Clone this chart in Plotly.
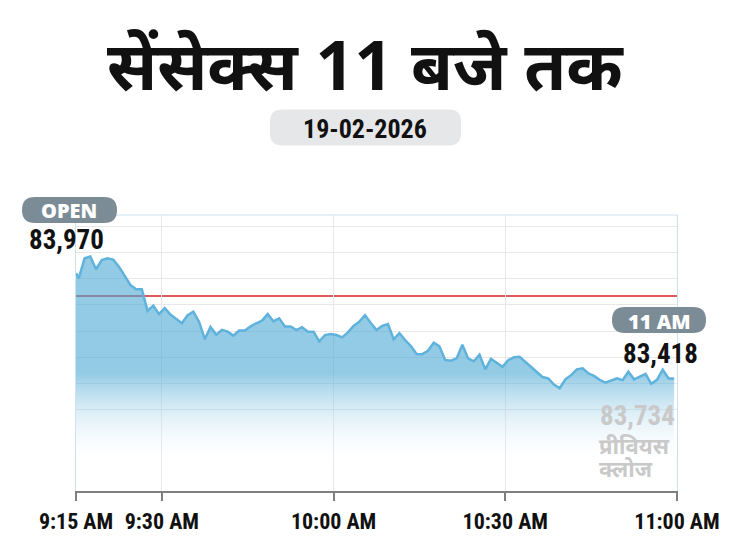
import plotly.graph_objects as go
import pandas as pd

# ---------------- data ----------------
minutes_after_open = [
    0, 0.5, 1.5, 2.5, 3.5, 4.5, 5.5, 6.5, 7.5, 8.5, 9.5, 10.5, 11.5, 12.5, 13.5,
    14.5, 15.5, 16.5, 18.5, 19.5, 20.5, 21.5, 22.5, 23.5, 24.5, 25.5, 26.5, 27.5,
    28.5, 29.5, 30.5, 31.5, 32.5, 33.5, 34.5, 35.5, 36.5, 37.5, 38.5, 39.5, 40.5,
    41.5, 42.5, 43.5, 44.5, 45.5, 46.5, 47.5, 48.5, 49.5, 50.5, 51.5, 52.5, 53.5,
    54.5, 55.5, 56.5, 57.5, 58.5, 59.5, 60.5, 61.5, 62.5, 63.5, 64.5, 65.5, 66.5,
    67.5, 68.5, 69.5, 70.5, 71.5, 72.5, 73.5, 74.5, 75.5, 76.5, 77.5, 78.5, 79.5,
    80.5, 81.5, 82.5, 83.5, 84.5, 85.5, 86.5, 87.5, 88.5, 89.5, 90.5, 91.5, 92.5,
    93.5, 94.5, 95.5, 96.5, 97.5, 98.5, 99.5, 100.5, 101.5, 102.5, 103.5, 104.5,
]
sensex = [
    83821, 83802, 83878, 83885, 83836, 83871, 83878, 83873, 83846, 83810, 83776,
    83760, 83760, 83677, 83697, 83665, 83688, 83663, 83630, 83661, 83674, 83636,
    83569, 83616, 83586, 83605, 83598, 83583, 83602, 83602, 83618, 83630, 83640,
    83665, 83637, 83649, 83618, 83618, 83604, 83615, 83598, 83598, 83561, 83585,
    83589, 83585, 83576, 83595, 83620, 83636, 83661, 83631, 83604, 83620, 83627,
    83569, 83592, 83566, 83543, 83513, 83512, 83525, 83556, 83542, 83490, 83487,
    83496, 83548, 83496, 83485, 83510, 83454, 83494, 83479, 83464, 83489, 83500,
    83502, 83483, 83464, 83444, 83425, 83420, 83396, 83382, 83416, 83432, 83454,
    83458, 83439, 83429, 83414, 83403, 83411, 83420, 83413, 83445, 83416, 83426,
    83437, 83399, 83414, 83453, 83420, 83418,
]
session_date = "2026-02-19"
date_label = "19-02-2026"
open_value = 83970
current_value = 83418
previous_close = 83734
tick_times = ["09:15", "09:30", "10:00", "10:30", "11:00"]
tick_labels = ["9:15 AM", "9:30 AM", "10:00 AM", "10:30 AM", "11:00 AM"]
grid_values = [83300, 83400, 83500, 83600, 83700, 83800, 83900, 84000]
title_text = "सेंसेक्स 11 बजे तक"
open_text = "OPEN"
now_text = "11 AM"
prev_close_lines = ["प्रीवियस", "क्लोज"]

# ---------------- layout helpers ----------------
OFF = 8                      # page body margin
W, H = 730 - OFF, 548 - OFF  # figure size
L, R, T, B = 76 - OFF, 677 - OFF, 215 - OFF, 491 - OFF  # plot area in figure px


def px_x(px):
    """reference-page x pixel -> paper x"""
    return (px - OFF - L) / (R - L)


def px_y(py):
    """reference-page y pixel -> paper y"""
    return (B - (py - OFF)) / (B - T)


def pill_path(w, h, r):
    x0, x1, y0, y1 = -w / 2, w / 2, -h / 2, h / 2
    return (f"M {x0 + r},{y0} L {x1 - r},{y0} Q {x1},{y0} {x1},{y0 + r} "
            f"L {x1},{y1 - r} Q {x1},{y1} {x1 - r},{y1} L {x0 + r},{y1} "
            f"Q {x0},{y1} {x0},{y1 - r} L {x0},{y0 + r} Q {x0},{y0} {x0 + r},{y0} Z")


base = pd.Timestamp(f"{session_date} 09:15")
times = [base + pd.Timedelta(minutes=m) for m in minutes_after_open]
tickvals = [pd.Timestamp(f"{session_date} {t}") for t in tick_times]

NARROW = "Roboto Condensed, DejaVu Sans Condensed, Liberation Sans, sans-serif"
WIDE = "Open Sans, Lato, sans-serif"
DEVA = "Noto Sans, sans-serif"

fig = go.Figure()
fig.add_trace(go.Scatter(
    x=times, y=sensex, mode="lines",
    line=dict(color="#5fb2dc", width=2.5),
    fill="tozeroy",
    fillgradient=dict(type="vertical", start=83090, stop=83440,
                      colorscale=[[0, "rgba(255,255,255,0)"],
                                  [1, "rgba(75,168,212,0.6)"]]),
    hoverinfo="skip", showlegend=False,
))

shapes = [
    dict(type="line", xref="x", yref="y", x0=tickvals[0], x1=tickvals[-1],
         y0=previous_close, y1=previous_close, layer="below",
         line=dict(color="#e05a5a", width=2)),
    dict(type="line", xref="paper", yref="paper", x0=0, x1=1, y0=1, y1=1,
         line=dict(color="#cde1ee", width=1)),
]
for cx, cy, w, h, r, col in [
    (365.5, 127.5, 191, 36, 12, "#e6e7e8"),
    (69.5, 210, 95, 26, 13, "#7b8c96"),
    (659, 320, 94, 26, 13, "#7b8c96"),
]:
    shapes.append(dict(type="path", xref="paper", yref="paper",
                       xsizemode="pixel", ysizemode="pixel",
                       xanchor=px_x(cx), yanchor=px_y(cy),
                       path=pill_path(w, h, r), fillcolor=col,
                       line=dict(width=0), layer="above"))

annotations = [
    dict(text=f"<b>{title_text}</b>", x=px_x(365), y=px_y(63),
         font=dict(family=DEVA, size=68, color="#111111", weight=900)),
    dict(text=date_label, x=px_x(365), y=px_y(129),
         font=dict(family=NARROW, size=26, color="#111111", weight="bold")),
    dict(text=open_text, x=px_x(69), y=px_y(211),
         font=dict(family=WIDE, size=20, color="white", weight=800)),
    dict(text=f"{open_value:,}", x=px_x(66), y=px_y(240),
         font=dict(family=NARROW, size=27, color="#111111", weight="bold")),
    dict(text=now_text, x=px_x(659), y=px_y(321),
         font=dict(family=WIDE, size=20, color="white", weight=800)),
    dict(text=f"{current_value:,}", x=px_x(660), y=px_y(354),
         font=dict(family=NARROW, size=27, color="#111111", weight="bold")),
    dict(text=f"{previous_close:,}", x=px_x(598), y=px_y(416), xanchor="left",
         font=dict(family=NARROW, size=27, color="#c9c9c9", weight="bold")),
    dict(text=prev_close_lines[0], x=px_x(597), y=px_y(445), xanchor="left",
         font=dict(family=DEVA, size=22, color="#c9c9c9", weight="bold")),
    dict(text=prev_close_lines[1], x=px_x(597), y=px_y(468), xanchor="left",
         font=dict(family=DEVA, size=22, color="#c9c9c9", weight="bold")),
]
for a in annotations:
    a.setdefault("xref", "paper")
    a.setdefault("yref", "paper")
    a.setdefault("showarrow", False)
    a.setdefault("xanchor", "center")
    a.setdefault("yanchor", "middle")

fig.update_layout(
    width=W, height=H, autosize=False,
    margin=dict(l=L, r=W - R, t=T, b=H - B, pad=0, autoexpand=False),
    paper_bgcolor="white", plot_bgcolor="white",
    shapes=shapes, annotations=annotations,
    xaxis=dict(
        type="date", range=[tickvals[0], tickvals[-1]],
        tickvals=tickvals, ticktext=tick_labels, tickangle=0, automargin=False,
        showgrid=True, gridcolor="#e8e8e8", gridwidth=1,
        showline=True, linecolor="#7f7f7f", linewidth=2,
        ticks="outside", ticklen=8, tickwidth=2, tickcolor="#7f7f7f",
        ticklabelstandoff=2,
        tickfont=dict(family=NARROW, size=22, color="#111111", weight="bold"),
        zeroline=False, fixedrange=True,
    ),
    yaxis=dict(
        range=[82990, 84043], tickvals=grid_values, showticklabels=False,
        automargin=False,
        showgrid=True, gridcolor="#e8e8e8", gridwidth=1, zeroline=False,
        showline=True, linecolor="#cde1ee", linewidth=1, mirror=True,
        ticks="", fixedrange=True,
    ),
)

fig.write_html("out.html")
